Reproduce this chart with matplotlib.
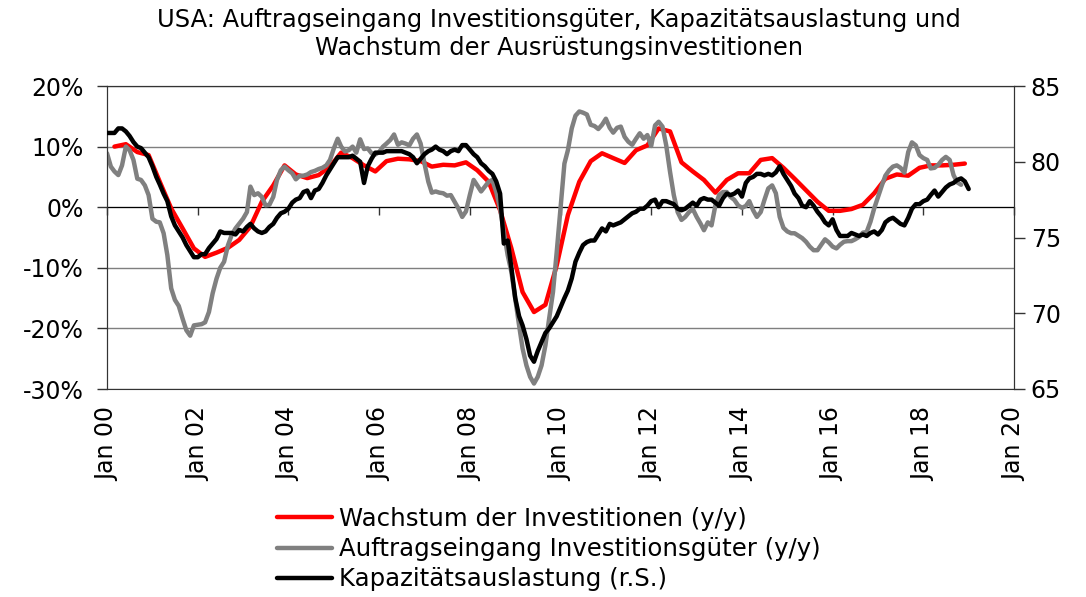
import matplotlib
matplotlib.use("Agg")
import matplotlib.pyplot as plt
import pandas as pd

plt.rcParams['font.family'] = ['DejaVu Sans']

title = "USA: Auftragseingang Investitionsgüter, Kapazitätsauslastung und\nWachstum der Ausrüstungsinvestitionen"
label_red = "Wachstum der Investitionen (y/y)"
label_gray = "Auftragseingang Investitionsgüter (y/y)"
label_black = "Kapazitätsauslastung (r.S.)"

# Quarterly: growth of equipment investment (y/y, %), Q1 2000 - Q4 2018
red_values = [
    10.0, 10.4, 9.1, 8.6,
    4.2, -0.2, -3.5, -6.8,
    -8.2, -7.5, -6.7, -5.4,
    -3.2, 0.9, 3.6, 6.9,
    5.4, 4.8, 5.3, 6.7,
    9.0, 8.1, 6.9, 5.9,
    7.6, 8.0, 7.9, 7.6,
    6.7, 7.0, 6.9, 7.4,
    6.1, 4.2, -0.5, -6.8,
    -14.0, -17.3, -16.1, -9.6,
    -1.3, 4.2, 7.6, 8.9,
    8.1, 7.3, 9.4, 10.2,
    13.0, 12.5, 7.4, 5.9,
    4.5, 2.4, 4.5, 5.6,
    5.6, 7.8, 8.1, 6.5,
    4.7, 2.8, 0.9, -0.6,
    -0.6, -0.3, 0.4, 2.3,
    4.7, 5.4, 5.2, 6.5,
    6.9, 6.9, 7.0, 7.2,
]

# Monthly: capital goods orders (y/y, %), Jan 2000 - Nov 2018
gray_values = [
    8.9, 6.7, 5.9, 5.3, 6.9, 10.0, 9.4, 7.8, 4.7, 4.5, 3.6, 2.0,
    -1.9, -2.4, -2.5, -4.3, -7.9, -13.4, -15.3, -16.3, -18.4, -20.3, -21.2, -19.5,
    -19.4, -19.3, -19.0, -17.3, -14.2, -11.8, -10.0, -9.0, -6.3, -4.6, -3.5, -2.7,
    -1.9, -0.8, 3.4, 2.0, 2.3, 1.7, 0.3, 0.4, 1.7, 4.5, 6.1, 6.7,
    6.1, 5.6, 4.6, 5.2, 5.2, 5.4, 5.8, 6.0, 6.3, 6.5, 6.9, 7.8,
    9.7, 11.3, 10.0, 9.2, 9.4, 10.0, 9.0, 11.2, 9.6, 9.7, 8.9, 8.7,
    9.1, 10.0, 10.5, 11.1, 12.0, 10.3, 10.7, 10.5, 10.2, 11.3, 12.0, 10.5,
    7.2, 4.2, 2.4, 2.6, 2.4, 2.3, 1.9, 2.0, 0.9, -0.2, -1.6, -0.7,
    2.0, 4.5, 3.6, 2.6, 3.4, 4.2, 4.5, 2.5, -0.2, -4.1, -7.9, -10.7,
    -15.1, -19.5, -23.3, -26.1, -28.0, -29.1, -28.0, -26.1, -22.8, -18.4, -14.0, -7.4,
    0.0, 7.2, 9.4, 13.0, 15.1, 15.8, 15.6, 15.3, 13.6, 13.4, 12.9, 13.6,
    14.6, 13.1, 12.3, 13.1, 13.3, 11.6, 10.8, 10.3, 11.3, 12.2, 11.3, 11.9,
    10.1, 13.5, 14.1, 13.3, 10.2, 5.8, 2.0, -0.8, -2.1, -1.6, -0.8, -0.3,
    -1.6, -2.7, -3.8, -2.5, -3.0, 0.3, 2.0, 2.5, 2.5, 1.7, 1.2, 0.3,
    -0.1, 0.2, 1.0, -0.5, -1.6, -0.8, 1.2, 3.1, 3.6, 2.3, -1.6, -3.4,
    -4.0, -4.3, -4.3, -4.7, -5.1, -5.7, -6.5, -7.1, -7.1, -6.2, -5.3, -5.8,
    -6.5, -6.8, -6.2, -5.7, -5.6, -5.6, -5.3, -4.9, -4.2, -4.1, -2.4, -0.2,
    1.7, 3.6, 5.2, 6.1, 6.7, 6.9, 6.5, 5.7, 9.1, 10.7, 10.2, 8.6,
    8.1, 7.8, 6.4, 6.5, 7.0, 7.8, 8.3, 7.8, 5.3, 4.1, 3.7,
]

# Monthly: capacity utilisation (%), Jan 2000 - Jan 2019 (right axis)
black_values = [
    81.9, 81.9, 81.9, 82.2, 82.2, 82.0, 81.7, 81.3, 81.0, 80.9, 80.6, 80.3,
    79.7, 79.0, 78.5, 77.9, 77.4, 76.4, 75.8, 75.4, 75.0, 74.5, 74.1, 73.7,
    73.7, 73.9, 73.9, 74.3, 74.6, 74.9, 75.4, 75.3, 75.3, 75.3, 75.2, 75.5,
    75.4, 75.7, 75.9, 75.6, 75.4, 75.3, 75.4, 75.7, 75.9, 76.3, 76.6, 76.7,
    76.9, 77.3, 77.5, 77.6, 78.0, 78.1, 77.6, 78.1, 78.2, 78.6, 79.1, 79.5,
    79.9, 80.3, 80.3, 80.3, 80.3, 80.4, 80.2, 80.0, 78.6, 79.7, 80.2, 80.6,
    80.6, 80.6, 80.7, 80.7, 80.7, 80.7, 80.7, 80.6, 80.5, 80.3, 79.9, 80.2,
    80.5, 80.7, 80.8, 81.0, 80.8, 80.7, 80.5, 80.7, 80.8, 80.7, 81.1, 81.1,
    80.8, 80.5, 80.3, 79.9, 79.7, 79.4, 79.2, 78.7, 77.9, 74.6, 74.8, 73.0,
    71.0, 69.8, 69.2, 68.3, 67.2, 66.8, 67.5, 68.1, 68.7, 69.0, 69.4, 69.8,
    70.4, 71.0, 71.5, 72.3, 73.4, 74.0, 74.5, 74.7, 74.8, 74.8, 75.2, 75.6,
    75.4, 75.9, 75.8, 75.9, 76.0, 76.2, 76.4, 76.6, 76.7, 76.9, 76.9, 77.1,
    77.4, 77.5, 77.0, 77.4, 77.4, 77.3, 77.2, 76.9, 76.8, 76.9, 77.1, 77.3,
    77.1, 77.5, 77.6, 77.5, 77.5, 77.3, 77.1, 77.6, 77.9, 77.8, 77.9, 78.1,
    77.7, 78.6, 78.9, 79.0, 79.2, 79.2, 79.1, 79.2, 79.1, 79.3, 79.7, 79.2,
    78.8, 78.4, 77.9, 77.6, 77.1, 77.0, 77.4, 77.1, 76.7, 76.4, 76.0, 75.8,
    76.2, 75.5, 75.1, 75.1, 75.1, 75.3, 75.2, 75.1, 75.2, 75.1, 75.3, 75.4,
    75.2, 75.5, 76.0, 76.2, 76.3, 76.1, 75.9, 75.8, 76.3, 76.9, 77.2, 77.2,
    77.4, 77.5, 77.8, 78.1, 77.7, 78.0, 78.3, 78.5, 78.6, 78.8, 78.9, 78.7,
    78.2,
]

red_dates = pd.date_range("2000-03-01", periods=len(red_values), freq="3MS")
gray_dates = pd.date_range("2000-01-01", periods=len(gray_values), freq="MS")
black_dates = pd.date_range("2000-01-01", periods=len(black_values), freq="MS")

xtick_dates = pd.date_range("2000-01-01", "2020-01-01", freq="24MS")
xtick_labels = ["Jan 00", "Jan 02", "Jan 04", "Jan 06", "Jan 08", "Jan 10",
                "Jan 12", "Jan 14", "Jan 16", "Jan 18", "Jan 20"]
left_ticks = [-30, -20, -10, 0, 10, 20]
left_labels = ["-30%", "-20%", "-10%", "0%", "10%", "20%"]
right_ticks = [65, 70, 75, 80, 85]

FS = 17
fig = plt.figure(figsize=(10.86, 5.97), dpi=100)
ax = fig.add_axes([107/1086, 1-389/597, (1014-107)/1086, (389-86)/597])
ax2 = ax.twinx()

l_red, = ax.plot(red_dates, red_values, color="#FF0000", lw=3.2, zorder=3,
                 solid_joinstyle="round", solid_capstyle="round")
l_gray, = ax.plot(gray_dates, gray_values, color="#808080", lw=3.2, zorder=4,
                  solid_joinstyle="round", solid_capstyle="round")
l_black, = ax2.plot(black_dates, black_values, color="#000000", lw=3.2, zorder=5,
                    solid_joinstyle="round", solid_capstyle="round")

ax.set_xlim(pd.Timestamp("2000-01-01"), pd.Timestamp("2020-01-01"))
ax.set_ylim(-30, 20)
ax.set_yticks(left_ticks, left_labels)
ax2.set_ylim(65, 85)
ax2.set_yticks(right_ticks, [str(v) for v in right_ticks])
ax.set_xticks(xtick_dates, xtick_labels)

ax.yaxis.grid(True, color="#7f7f7f", lw=1.0)
ax.set_axisbelow(True)

spine_color = "#333333"
for s in ax.spines.values():
    s.set_color(spine_color)
for s in ax2.spines.values():
    s.set_color(spine_color)
ax.spines["bottom"].set_position(("data", 0))
ax.spines["bottom"].set_color("#000000")

ax.tick_params(axis="x", direction="out", length=6, width=1, labelbottom=False, color="#333333")
ax.tick_params(axis="y", direction="out", length=7, width=1, pad=10, labelsize=FS, color="#333333")
ax2.tick_params(axis="y", direction="out", length=8, width=1, pad=4, labelsize=FS, color="#333333")
ax2.xaxis.set_visible(True)
ax2.tick_params(axis="x", length=0, labelbottom=True, labelrotation=90, pad=13, labelsize=FS)

fig.text(0.5148, 1-8/597, title, ha="center", va="top", fontsize=17.4, linespacing=1.2)

fig.legend(handles=[l_red, l_gray, l_black], labels=[label_red, label_gray, label_black],
           loc="upper left", bbox_to_anchor=(277/1086, 1-507/597), frameon=False,
           fontsize=17.6, handlelength=2.25, handletextpad=0.3, labelspacing=0.25,
           borderpad=0, borderaxespad=0)

fig.savefig("out.png", dpi=100)
